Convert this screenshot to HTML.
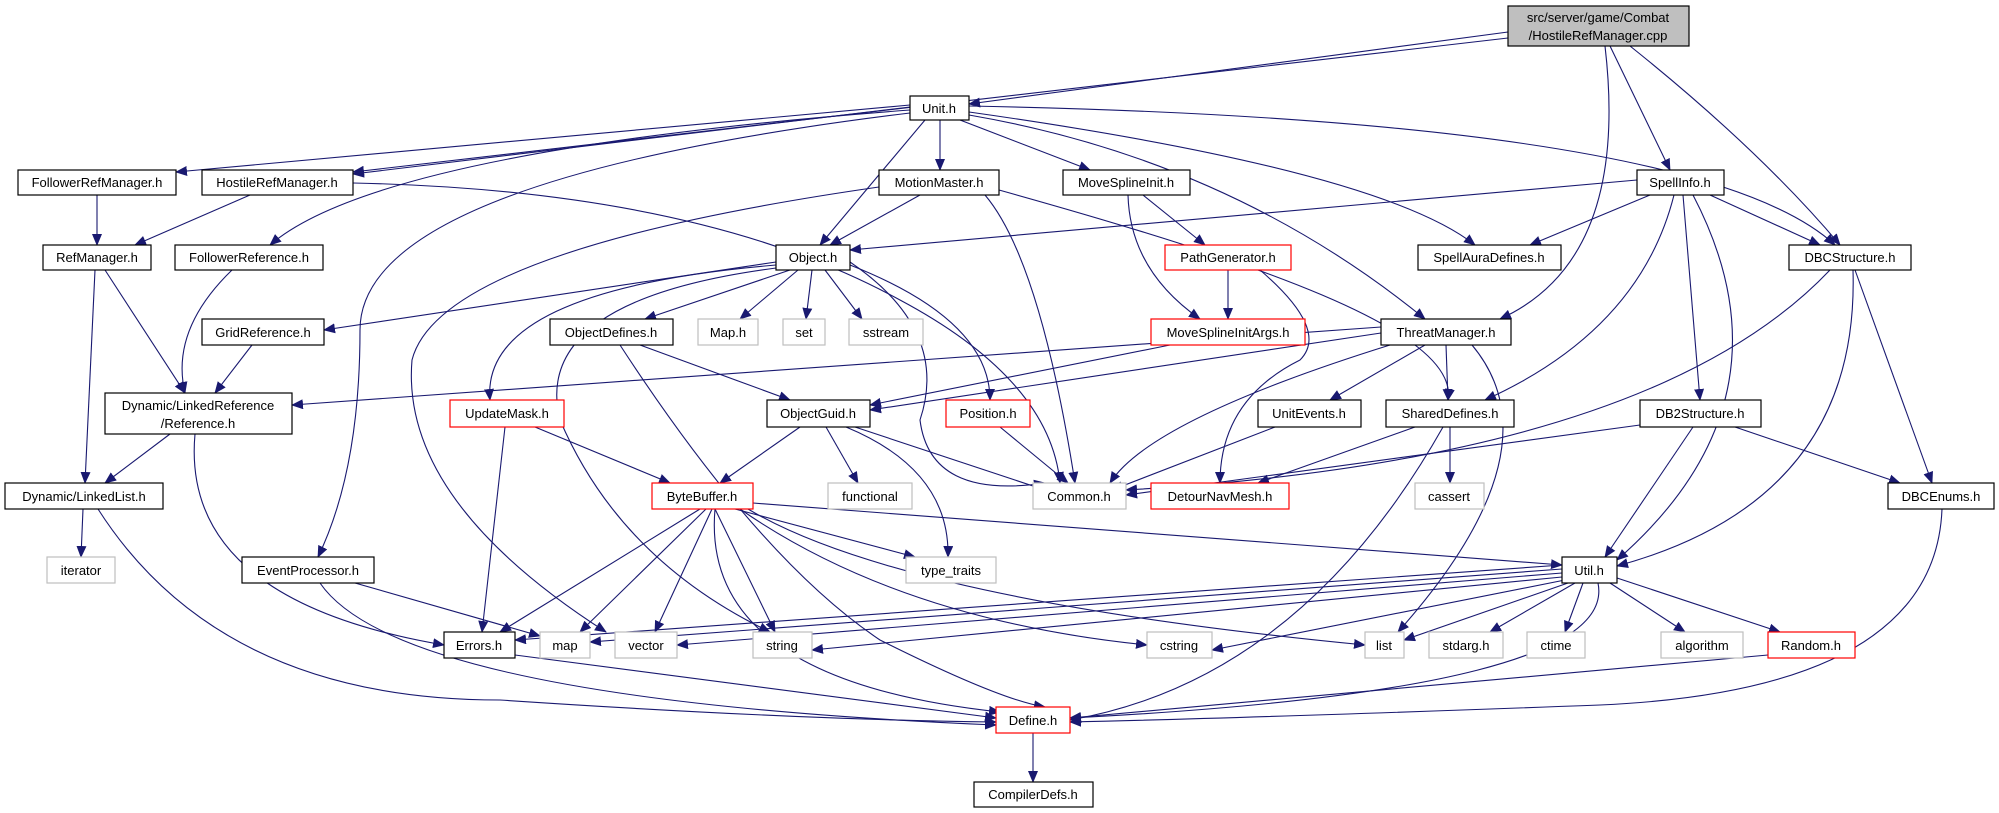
<!DOCTYPE html>
<html><head><meta charset="utf-8"><style>
html,body{margin:0;padding:0;background:#fff;}
svg{display:block}
.n rect{fill:#fff;stroke:#000;stroke-width:1.2}
.g rect{stroke:#bfbfbf}
.r rect{stroke:#ff0000}
text{font-family:"Liberation Sans","DejaVu Sans",sans-serif;font-size:13px;fill:#000}
.e path{fill:none;stroke:#191970;stroke-width:1.1;marker-end:url(#a)}
</style></head><body>
<svg width="1999" height="813" viewBox="0 0 1999 813" xmlns="http://www.w3.org/2000/svg">
<defs><marker id="a" markerUnits="userSpaceOnUse" markerWidth="12" markerHeight="10" refX="11" refY="5" orient="auto"><path d="M0,0 L12,5 L0,10 z" fill="#191970"/></marker></defs>
<g class="e">
<path d="M1508,32 L969,104"/>
<path d="M1508,38 L353,172"/>
<path d="M1605,46 Q1630,260 1500,319"/>
<path d="M1610,46 L1670,170"/>
<path d="M1630,46 Q1760,150 1840,245"/>
<path d="M910,105 L176,172"/>
<path d="M910,107 L353,174"/>
<path d="M910,110 Q380,150 270,245"/>
<path d="M910,113 Q360,180 360,330 Q360,470 318,557"/>
<path d="M925,120 L820,245"/>
<path d="M940,120 L940,170"/>
<path d="M960,120 L1090,170"/>
<path d="M969,112 Q1380,170 1475,245"/>
<path d="M969,115 Q1230,160 1425,319"/>
<path d="M969,106 Q1700,120 1835,245"/>
<path d="M250,195 L135,245"/>
<path d="M353,183 Q700,190 900,300 Q1050,380 1060,483"/>
<path d="M97,195 L97,245"/>
<path d="M95,270 L85,483"/>
<path d="M105,270 L185,393"/>
<path d="M232,270 Q170,330 185,393"/>
<path d="M252,345 L215,393"/>
<path d="M170,434 L105,483"/>
<path d="M195,434 Q180,600 444,645"/>
<path d="M83,509 L81,557"/>
<path d="M98,509 Q220,700 500,700 Q800,720 996,722"/>
<path d="M920,195 L830,245"/>
<path d="M879,187 Q440,250 412,360 Q400,500 606,632"/>
<path d="M985,195 Q1040,260 1075,483"/>
<path d="M999,190 C1250,260 1460,330 1448,400"/>
<path d="M1143,195 L1205,245"/>
<path d="M1128,195 Q1130,270 1200,319"/>
<path d="M1228,270 L1228,319"/>
<path d="M1260,270 Q1330,330 1300,360 Q1220,400 1220,483"/>
<path d="M1637,180 L850,250"/>
<path d="M1650,195 L1530,245"/>
<path d="M1710,195 L1820,245"/>
<path d="M1674,195 Q1640,330 1485,400"/>
<path d="M1683,195 L1700,400"/>
<path d="M1693,195 Q1800,400 1617,560"/>
<path d="M1830,270 Q1650,460 1126,490"/>
<path d="M1855,270 L1932,483"/>
<path d="M1853,270 Q1860,500 1617,566"/>
<path d="M776,262 L324,330"/>
<path d="M790,270 L645,319"/>
<path d="M798,270 L740,319"/>
<path d="M812,270 L806,319"/>
<path d="M825,270 L862,319"/>
<path d="M776,265 Q480,290 490,400"/>
<path d="M776,268 Q530,300 560,420 Q620,560 770,632"/>
<path d="M850,265 Q990,320 990,400"/>
<path d="M850,262 Q950,330 920,420 Q930,500 1045,483"/>
<path d="M620,345 Q760,560 880,640 Q1000,700 1045,707"/>
<path d="M640,345 L790,400"/>
<path d="M1381,327 L292,405"/>
<path d="M1381,333 L870,410"/>
<path d="M1425,345 L1330,400"/>
<path d="M1446,345 L1448,400"/>
<path d="M1472,345 Q1560,450 1398,632"/>
<path d="M1390,345 Q1150,420 1110,483"/>
<path d="M1170,345 L870,405"/>
<path d="M535,427 L670,483"/>
<path d="M505,427 L482,632"/>
<path d="M800,427 L720,483"/>
<path d="M826,427 L858,483"/>
<path d="M846,427 Q950,470 948,557"/>
<path d="M855,427 L1045,490"/>
<path d="M1000,427 L1068,483"/>
<path d="M1275,427 L1112,490"/>
<path d="M1415,427 L1258,483"/>
<path d="M1450,427 L1450,483"/>
<path d="M1443,427 Q1300,680 1070,720"/>
<path d="M1640,425 L1126,495"/>
<path d="M1693,427 L1605,557"/>
<path d="M1735,427 L1900,483"/>
<path d="M700,509 L500,632"/>
<path d="M706,509 L580,632"/>
<path d="M712,509 L655,632"/>
<path d="M715,509 L775,632"/>
<path d="M715,509 Q700,680 1000,712"/>
<path d="M735,509 L915,557"/>
<path d="M740,509 Q900,620 1147,645"/>
<path d="M748,509 Q900,600 1365,645"/>
<path d="M753,503 L1562,565"/>
<path d="M1942,509 Q1935,690 1600,705 Q1250,718 1070,722"/>
<path d="M355,583 L540,636"/>
<path d="M320,583 Q400,700 996,725"/>
<path d="M515,655 L996,718"/>
<path d="M1562,565 L515,640"/>
<path d="M1562,569 L590,642"/>
<path d="M1562,573 L677,645"/>
<path d="M1562,577 L812,650"/>
<path d="M1565,580 L1212,650"/>
<path d="M1568,583 L1404,640"/>
<path d="M1575,583 L1490,632"/>
<path d="M1583,583 L1565,632"/>
<path d="M1610,583 L1685,632"/>
<path d="M1617,578 L1780,632"/>
<path d="M1598,583 Q1620,690 1070,718"/>
<path d="M1768,655 L1070,718"/>
<path d="M1033,733 L1033,782"/>
</g>
<g class="n"><rect x="1508" y="6" width="181" height="40" style="fill:#bfbfbf"/><text x="1598" y="22" text-anchor="middle">src/server/game/Combat</text><text x="1598" y="40" text-anchor="middle">/HostileRefManager.cpp</text></g>
<g class="n"><rect x="105" y="393" width="187" height="41"/><text x="198" y="410" text-anchor="middle">Dynamic/LinkedReference</text><text x="198" y="428" text-anchor="middle">/Reference.h</text></g>
<g class="n"><rect x="910" y="96" width="59" height="24"/><text x="939" y="113" text-anchor="middle">Unit.h</text></g>
<g class="n"><rect x="18" y="170" width="158" height="25"/><text x="97" y="187" text-anchor="middle">FollowerRefManager.h</text></g>
<g class="n"><rect x="202" y="170" width="151" height="25"/><text x="277" y="187" text-anchor="middle">HostileRefManager.h</text></g>
<g class="n"><rect x="879" y="170" width="120" height="25"/><text x="939" y="187" text-anchor="middle">MotionMaster.h</text></g>
<g class="n"><rect x="1063" y="170" width="127" height="25"/><text x="1126" y="187" text-anchor="middle">MoveSplineInit.h</text></g>
<g class="n"><rect x="1637" y="170" width="87" height="25"/><text x="1680" y="187" text-anchor="middle">SpellInfo.h</text></g>
<g class="n"><rect x="43" y="245" width="108" height="25"/><text x="97" y="262" text-anchor="middle">RefManager.h</text></g>
<g class="n"><rect x="175" y="245" width="148" height="25"/><text x="249" y="262" text-anchor="middle">FollowerReference.h</text></g>
<g class="n"><rect x="776" y="245" width="74" height="25"/><text x="813" y="262" text-anchor="middle">Object.h</text></g>
<g class="n r"><rect x="1165" y="245" width="126" height="25"/><text x="1228" y="262" text-anchor="middle">PathGenerator.h</text></g>
<g class="n"><rect x="1418" y="245" width="143" height="25"/><text x="1489" y="262" text-anchor="middle">SpellAuraDefines.h</text></g>
<g class="n"><rect x="1789" y="245" width="122" height="25"/><text x="1850" y="262" text-anchor="middle">DBCStructure.h</text></g>
<g class="n"><rect x="202" y="319" width="122" height="26"/><text x="263" y="337" text-anchor="middle">GridReference.h</text></g>
<g class="n"><rect x="550" y="319" width="123" height="26"/><text x="611" y="337" text-anchor="middle">ObjectDefines.h</text></g>
<g class="n g"><rect x="698" y="319" width="60" height="26"/><text x="728" y="337" text-anchor="middle">Map.h</text></g>
<g class="n g"><rect x="783" y="319" width="42" height="26"/><text x="804" y="337" text-anchor="middle">set</text></g>
<g class="n g"><rect x="849" y="319" width="74" height="26"/><text x="886" y="337" text-anchor="middle">sstream</text></g>
<g class="n r"><rect x="1151" y="319" width="154" height="26"/><text x="1228" y="337" text-anchor="middle">MoveSplineInitArgs.h</text></g>
<g class="n"><rect x="1381" y="319" width="130" height="26"/><text x="1446" y="337" text-anchor="middle">ThreatManager.h</text></g>
<g class="n r"><rect x="450" y="400" width="114" height="27"/><text x="507" y="418" text-anchor="middle">UpdateMask.h</text></g>
<g class="n"><rect x="767" y="400" width="103" height="27"/><text x="818" y="418" text-anchor="middle">ObjectGuid.h</text></g>
<g class="n r"><rect x="946" y="400" width="84" height="27"/><text x="988" y="418" text-anchor="middle">Position.h</text></g>
<g class="n"><rect x="1258" y="400" width="103" height="27"/><text x="1309" y="418" text-anchor="middle">UnitEvents.h</text></g>
<g class="n"><rect x="1386" y="400" width="128" height="27"/><text x="1450" y="418" text-anchor="middle">SharedDefines.h</text></g>
<g class="n"><rect x="1640" y="400" width="121" height="27"/><text x="1700" y="418" text-anchor="middle">DB2Structure.h</text></g>
<g class="n"><rect x="5" y="483" width="158" height="26"/><text x="84" y="501" text-anchor="middle">Dynamic/LinkedList.h</text></g>
<g class="n r"><rect x="652" y="483" width="101" height="26"/><text x="702" y="501" text-anchor="middle">ByteBuffer.h</text></g>
<g class="n g"><rect x="828" y="483" width="84" height="26"/><text x="870" y="501" text-anchor="middle">functional</text></g>
<g class="n g"><rect x="1033" y="483" width="93" height="26"/><text x="1079" y="501" text-anchor="middle">Common.h</text></g>
<g class="n r"><rect x="1151" y="483" width="138" height="26"/><text x="1220" y="501" text-anchor="middle">DetourNavMesh.h</text></g>
<g class="n g"><rect x="1415" y="483" width="69" height="26"/><text x="1449" y="501" text-anchor="middle">cassert</text></g>
<g class="n"><rect x="1888" y="483" width="106" height="26"/><text x="1941" y="501" text-anchor="middle">DBCEnums.h</text></g>
<g class="n g"><rect x="47" y="557" width="68" height="26"/><text x="81" y="575" text-anchor="middle">iterator</text></g>
<g class="n"><rect x="242" y="557" width="132" height="26"/><text x="308" y="575" text-anchor="middle">EventProcessor.h</text></g>
<g class="n g"><rect x="906" y="557" width="90" height="26"/><text x="951" y="575" text-anchor="middle">type_traits</text></g>
<g class="n"><rect x="1562" y="557" width="55" height="26"/><text x="1589" y="575" text-anchor="middle">Util.h</text></g>
<g class="n"><rect x="444" y="632" width="71" height="26"/><text x="479" y="650" text-anchor="middle">Errors.h</text></g>
<g class="n g"><rect x="540" y="632" width="50" height="26"/><text x="565" y="650" text-anchor="middle">map</text></g>
<g class="n g"><rect x="615" y="632" width="62" height="26"/><text x="646" y="650" text-anchor="middle">vector</text></g>
<g class="n g"><rect x="753" y="632" width="59" height="26"/><text x="782" y="650" text-anchor="middle">string</text></g>
<g class="n g"><rect x="1147" y="632" width="65" height="26"/><text x="1179" y="650" text-anchor="middle">cstring</text></g>
<g class="n g"><rect x="1365" y="632" width="39" height="26"/><text x="1384" y="650" text-anchor="middle">list</text></g>
<g class="n g"><rect x="1429" y="632" width="74" height="26"/><text x="1466" y="650" text-anchor="middle">stdarg.h</text></g>
<g class="n g"><rect x="1527" y="632" width="58" height="26"/><text x="1556" y="650" text-anchor="middle">ctime</text></g>
<g class="n g"><rect x="1661" y="632" width="82" height="26"/><text x="1702" y="650" text-anchor="middle">algorithm</text></g>
<g class="n r"><rect x="1768" y="632" width="87" height="26"/><text x="1811" y="650" text-anchor="middle">Random.h</text></g>
<g class="n r"><rect x="996" y="707" width="74" height="26"/><text x="1033" y="725" text-anchor="middle">Define.h</text></g>
<g class="n"><rect x="974" y="782" width="119" height="25"/><text x="1033" y="799" text-anchor="middle">CompilerDefs.h</text></g>
</svg>
</body></html>
